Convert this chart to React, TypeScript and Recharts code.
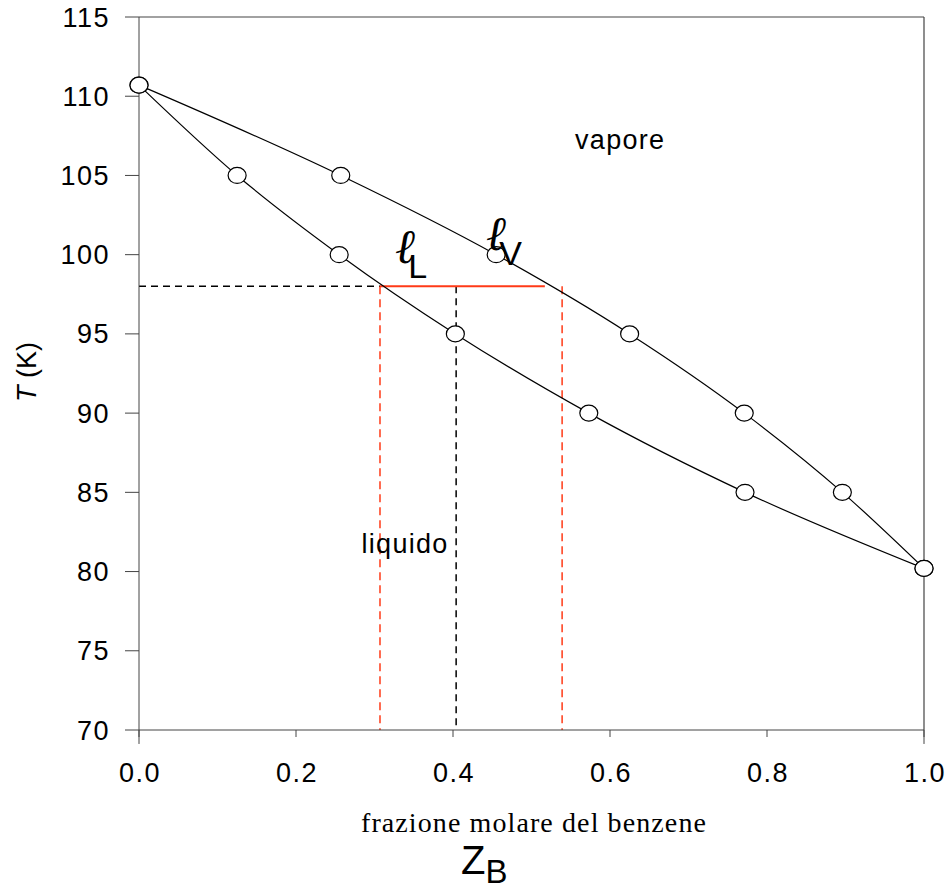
import { LineChart, Line, XAxis, YAxis, ReferenceLine, ReferenceDot } from "recharts";

// liquid (bubble point) curve
const liquidX = [0, 0.125, 0.255, 0.403, 0.573, 0.772, 1.0];
const liquidT = [110.7, 105, 100, 95, 90, 85, 80.2];
// vapour (dew point) curve
const vaporX = [0, 0.257, 0.455, 0.625, 0.771, 0.896, 1.0];
const vaporT = [110.7, 105, 100, 95, 90, 85, 80.2];

// tie line at T = 98
const tieT = 98;
const tieLiquidX = 0.307;
const tieEndX = 0.517;
const tieVaporX = 0.539;
const overallZ = 0.404;

const xTicks = [0, 0.2, 0.4, 0.6, 0.8, 1.0];
const yTicks = [70, 75, 80, 85, 90, 95, 100, 105, 110, 115];

const regionLabels = [
  { text: "vapore", x: 0.613, t: 106.67 },
  { text: "liquido", x: 0.339, t: 81.17 },
];
const ellLabels = [
  { sub: "L", x: 0.327, t: 99.47 },
  { sub: "V", x: 0.443, t: 100.3 },
];

const liquidData = liquidX.map((x, i) => ({ x, t: liquidT[i] }));
const vaporData = vaporX.map((x, i) => ({ x, t: vaporT[i] }));

const SANS = "'Liberation Sans', Arial, sans-serif";
const AXIS = "#444";
const RED = "#ff3a17";

const OpenDot = (props: any) => (
  <ellipse
    key={`dot-${props.index}-${props.cx}`}
    cx={props.cx}
    cy={props.cy}
    rx={9}
    ry={8}
    fill="#fff"
    stroke="#000"
    strokeWidth={1.2}
  />
);

const YTick = (p: any) => (
  <text
    x={p.x + 1}
    y={p.y}
    dy="0.355em"
    textAnchor="end"
    fontFamily={SANS}
    fontSize={27}
    letterSpacing={1.5}
    fill="#000"
  >
    {p.payload.value}
  </text>
);

const XTick = (p: any) => (
  <text
    x={p.x + 1}
    y={p.y}
    dy="0.71em"
    textAnchor="middle"
    fontFamily={SANS}
    fontSize={27}
    letterSpacing={1.5}
    fill="#000"
  >
    {Number(p.payload.value).toFixed(1)}
  </text>
);

const YLabel = () => (
  <text
    x={36}
    y={372}
    transform="rotate(-90, 36, 372)"
    textAnchor="middle"
    fontFamily={SANS}
    fontSize={27}
    fill="#000"
  >
    <tspan fontStyle="italic">T</tspan> (K)
  </text>
);

const XLabel = () => (
  <g>
    <text
      x={534}
      y={832}
      textAnchor="middle"
      fontFamily="'Liberation Serif', 'Times New Roman', serif"
      fontSize={28}
      letterSpacing={1.1}
      fill="#000"
    >
      frazione molare del benzene
    </text>
    <text x={461} y={874} fontFamily={SANS} fontSize={40} fill="#000">
      Z
      <tspan dy={9} fontSize={33}>
        B
      </tspan>
    </text>
  </g>
);

export default function App() {
  return (
    <div style={{ position: "absolute", left: 0, top: 0, background: "#fff" }}>
      <LineChart
        width={952}
        height={891}
        margin={{ top: 17, right: 28, left: 0, bottom: 0 }}
      >
        <XAxis
          dataKey="x"
          type="number"
          domain={[0, 1]}
          ticks={xTicks}
          height={161}
          tickSize={7}
          tickMargin={26}
          stroke={AXIS}
          tick={XTick}
          label={<XLabel />}
        />
        <YAxis
          dataKey="t"
          type="number"
          domain={[70, 115]}
          ticks={yTicks}
          width={139}
          tickSize={14}
          tickMargin={16}
          stroke={AXIS}
          tick={YTick}
          label={<YLabel />}
        />

        {/* frame */}
        <ReferenceLine y={115} stroke={AXIS} strokeWidth={1.2} />
        <ReferenceLine x={1} stroke={AXIS} strokeWidth={1.2} />
        <ReferenceLine
          segment={[{ x: 0, y: 70 }, { x: 0, y: 69.12 }]}
          stroke={AXIS}
          ifOverflow="visible"
        />
        <ReferenceLine
          segment={[{ x: 1, y: 70 }, { x: 1, y: 69.12 }]}
          stroke={AXIS}
          ifOverflow="visible"
        />

        {/* tie line construction */}
        <ReferenceLine
          segment={[{ x: 0, y: tieT }, { x: tieLiquidX, y: tieT }]}
          stroke="#000"
          strokeWidth={1.5}
          strokeDasharray="7 5"
        />
        <ReferenceLine
          segment={[{ x: overallZ, y: tieT }, { x: overallZ, y: 70 }]}
          stroke="#000"
          strokeWidth={1.5}
          strokeDasharray="7 5"
        />
        <ReferenceLine
          segment={[{ x: tieLiquidX, y: tieT }, { x: tieLiquidX, y: 70 }]}
          stroke={RED}
          strokeWidth={1.5}
          strokeDasharray="8 5"
        />
        <ReferenceLine
          segment={[{ x: tieVaporX, y: tieT }, { x: tieVaporX, y: 70 }]}
          stroke={RED}
          strokeWidth={1.5}
          strokeDasharray="8 5"
        />
        <ReferenceLine
          segment={[{ x: tieLiquidX, y: tieT }, { x: tieEndX, y: tieT }]}
          stroke={RED}
          strokeWidth={2}
        />

        <Line
          data={liquidData}
          dataKey="t"
          type="monotone"
          stroke="#000"
          strokeWidth={1.2}
          dot={OpenDot}
          activeDot={false}
          isAnimationActive={false}
        />
        <Line
          data={vaporData}
          dataKey="t"
          type="monotone"
          stroke="#000"
          strokeWidth={1.2}
          dot={OpenDot}
          activeDot={false}
          isAnimationActive={false}
        />

        {regionLabels.map((l) => (
          <ReferenceDot
            key={l.text}
            x={l.x}
            y={l.t}
            r={0}
            shape={(p: any) => (
              <text
                x={p.cx}
                y={p.cy}
                textAnchor="middle"
                fontFamily={SANS}
                fontSize={27}
                letterSpacing={1.3}
                fill="#000"
              >
                {l.text}
              </text>
            )}
          />
        ))}
        {ellLabels.map((l) => (
          <ReferenceDot
            key={l.sub}
            x={l.x}
            y={l.t}
            r={0}
            shape={(p: any) => (
              <text x={p.cx} y={p.cy} fill="#000">
                <tspan
                  fontFamily="'DejaVu Serif', serif"
                  fontStyle="italic"
                  fontWeight="bold"
                  fontSize={48}
                >
                  ℓ
                </tspan>
                <tspan dx={-8} dy={15} fontFamily={SANS} fontSize={34}>
                  {l.sub}
                </tspan>
              </text>
            )}
          />
        ))}
      </LineChart>
    </div>
  );
}
